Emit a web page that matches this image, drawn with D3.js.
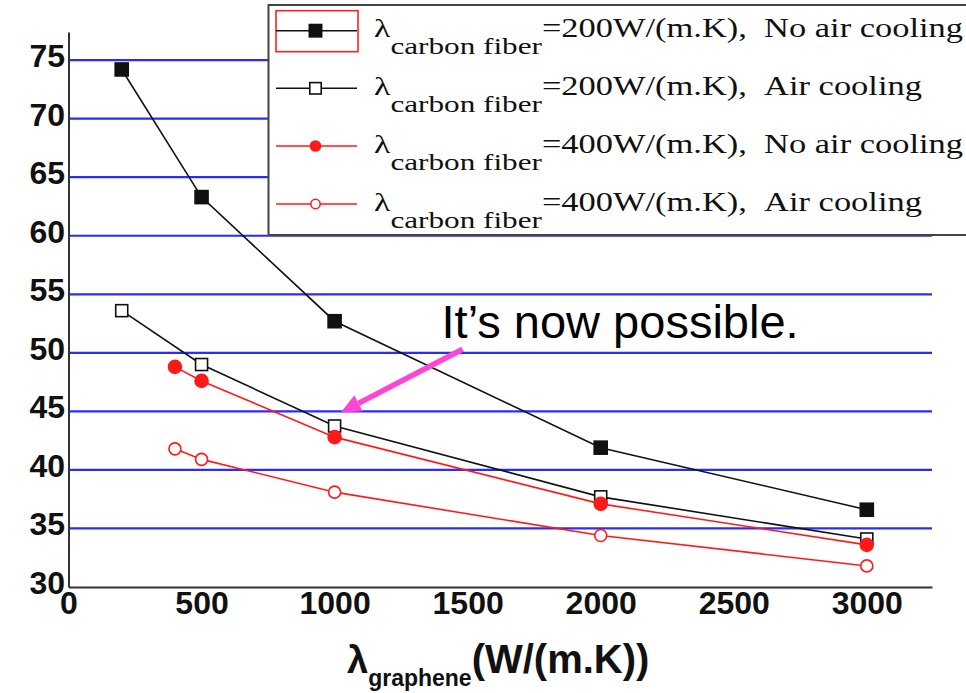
<!DOCTYPE html>
<html>
<head>
<meta charset="utf-8">
<script src="https://cdn.jsdelivr.net/npm/d3@7"></script>
<style>
  body { margin: 0; background: #fff; }
  svg { display: block; }
</style>
</head>
<body>
<svg id="chart"></svg>
<script>
// graphene conductivity on the x axis, two carbon fiber grades, with and without air cooling
const xValues200 = [200, 500, 1000, 2000, 3000];
const xValues400 = [400, 500, 1000, 2000, 3000];
const cf200NoAir = [74.2, 63.3, 52.7, 41.9, 36.6];
const cf200Air = [53.6, 49.0, 43.75, 37.7, 34.1];
const cf400NoAir = [48.8, 47.6, 42.8, 37.1, 33.6];
const cf400Air = [41.8, 40.9, 38.1, 34.4, 31.8];

const xTicks = [0, 500, 1000, 1500, 2000, 2500, 3000];
const yTicks = [30, 35, 40, 45, 50, 55, 60, 65, 70, 75];

const legendValues = ["=200W/(m.K),\u00a0\u00a0No air cooling", "=200W/(m.K),\u00a0\u00a0Air cooling",
    "=400W/(m.K),\u00a0\u00a0No air cooling", "=400W/(m.K),\u00a0\u00a0Air cooling"];

const annotationText = "It\u2019s now possible.";

const svgWidth = 966,
    svgHeight = 693;

const svg = d3.select("#chart")
    .attr("width", svgWidth)
    .attr("height", svgHeight)
    .attr("viewBox", `0 0 ${svgWidth} ${svgHeight}`);

const x = d3.scaleLinear()
    .domain([0, 3245])
    .range([68.5, 932]);

const y = d3.scaleLinear()
    .domain([30, 77.4])
    .range([587, 32]);

// series table built from the arrays above
const series = [
    { xs: xValues200, ys: cf200NoAir, color: "#111", shape: "square", filled: true, label: legendValues[0] },
    { xs: xValues200, ys: cf200Air, color: "#111", shape: "square", filled: false, label: legendValues[1] },
    { xs: xValues400, ys: cf400NoAir, color: "#ff1a1a", shape: "circle", filled: true, label: legendValues[2] },
    { xs: xValues400, ys: cf400Air, color: "#ff1a1a", shape: "circle", filled: false, label: legendValues[3] }
];

// blue horizontal grid
svg.append("g")
    .selectAll("line")
    .data(yTicks.filter(d => d > 30))
    .join("line")
    .attr("x1", x.range()[0])
    .attr("x2", x.range()[1])
    .attr("y1", d => y(d))
    .attr("y2", d => y(d))
    .attr("stroke", "#2b2bff")
    .attr("stroke-width", 2.2);

const line = d3.line()
    .x(d => x(d[0]))
    .y(d => y(d[1]));

series.forEach(s => {
    const pts = s.xs.map((v, i) => [v, s.ys[i]]);

    svg.append("path")
        .datum(pts)
        .attr("d", line)
        .attr("fill", "none")
        .attr("stroke", s.color)
        .attr("stroke-width", 1.6);

    drawMarkers(svg, pts.map(p => [x(p[0]), y(p[1])]), s, 1);
});

function drawMarkers(parent, coords, s, scale) {
    if (s.shape === "square") {
        const size = (s.filled ? 13 : 12) * scale;
        parent.append("g")
            .selectAll("rect")
            .data(coords)
            .join("rect")
            .attr("x", d => d[0] - size / 2)
            .attr("y", d => d[1] - size / 2)
            .attr("width", size)
            .attr("height", size)
            .attr("fill", s.filled ? s.color : "#fff")
            .attr("stroke", s.color)
            .attr("stroke-width", 1.6);
    } else {
        const r = (s.filled ? 6.5 : 6) * scale;
        parent.append("g")
            .selectAll("circle")
            .data(coords)
            .join("circle")
            .attr("cx", d => d[0])
            .attr("cy", d => d[1])
            .attr("r", r)
            .attr("fill", s.filled ? s.color : "#fff")
            .attr("stroke", s.color)
            .attr("stroke-width", 1.6);
    }
}

// axes, no tick marks, only bold labels
const xAxis = svg.append("g")
    .attr("transform", `translate(0,${y.range()[0]})`)
    .call(d3.axisBottom(x).tickValues(xTicks).tickFormat(d3.format("d"))
        .tickSize(0).tickSizeOuter(0).tickPadding(4));

const yAxis = svg.append("g")
    .attr("transform", `translate(${x.range()[0]},0)`)
    .call(d3.axisLeft(y).tickValues(yTicks).tickFormat(d3.format("d"))
        .tickSize(0).tickSizeOuter(0).tickPadding(3.5));

yAxis.selectAll(".tick text").attr("dy", "0.2em");

[xAxis, yAxis].forEach(a => {
    a.select(".domain").attr("stroke", "#333").attr("stroke-width", 2);
    a.selectAll(".tick text")
        .attr("fill", "#111")
        .style("font-family", "Arial, 'Liberation Sans', sans-serif")
        .style("font-weight", "bold")
        .style("font-size", "32px");
});

// x axis title with subscript
const xTitle = svg.append("text")
    .attr("x", 347)
    .attr("y", 673)
    .attr("fill", "#111")
    .style("font-family", "Arial, 'Liberation Sans', sans-serif")
    .style("font-weight", "bold")
    .style("font-size", "38px");
xTitle.append("tspan").text("\u03bb");
xTitle.append("tspan").attr("dy", 13).style("font-size", "23px").text("graphene");
xTitle.append("tspan").attr("dy", -13).style("font-size", "40px").text("(W/(m.K))");

// legend box sits on top of the grid
const legend = svg.append("g");

legend.append("rect")
    .attr("x", 268.5)
    .attr("y", 5)
    .attr("width", 720)
    .attr("height", 230)
    .attr("fill", "#fff")
    .attr("stroke", "#444")
    .attr("stroke-width", 2);

const rowY = [30.7, 88.3, 146, 204];

// red selection frame around the first sample
legend.append("rect")
    .attr("x", 276)
    .attr("y", 10.7)
    .attr("width", 82)
    .attr("height", 41)
    .attr("fill", "none")
    .attr("stroke", "#ff2020")
    .attr("stroke-width", 1.6);

series.forEach((s, i) => {
    const ry = rowY[i];
    legend.append("line")
        .attr("x1", 276)
        .attr("x2", 357)
        .attr("y1", ry)
        .attr("y2", ry)
        .attr("stroke", s.color)
        .attr("stroke-width", 1.6);

    drawMarkers(legend, [[315.5, ry]], s, s.shape === "square" ? 0.95 : 0.78);

    // the serif labels are stretched sideways in the original
    const t = legend.append("g")
        .attr("transform", `translate(374,${ry + 6.5}) scale(1.3,1)`)
        .append("text")
        .attr("fill", "#111")
        .style("font-family", "'Times New Roman', 'Liberation Serif', serif")
        .style("font-size", "26px");
    t.append("tspan").text("\u03bb");
    t.append("tspan").attr("dy", 17).style("font-size", "24px").text("carbon fiber");
    t.append("tspan").attr("dy", -17).style("font-size", "26.5px").text(s.label);
});

// annotation with magenta arrow
svg.append("text")
    .attr("x", x(1402))
    .attr("y", y(51.27))
    .attr("fill", "#000")
    .style("font-family", "Arial, 'Liberation Sans', sans-serif")
    .style("font-size", "47px")
    .text(annotationText);

const tail = [x(1481), y(50.3)],
    tip = [x(1023), y(44.9)];
const ang = Math.atan2(tip[1] - tail[1], tip[0] - tail[0]);
const headLen = 20, headHalf = 9;
const base = [tip[0] - headLen * Math.cos(ang), tip[1] - headLen * Math.sin(ang)];

svg.append("line")
    .attr("x1", tail[0])
    .attr("y1", tail[1])
    .attr("x2", base[0])
    .attr("y2", base[1])
    .attr("stroke", "#ff45d6")
    .attr("stroke-width", 5.5);

svg.append("polygon")
    .attr("points", [
        tip,
        [base[0] + headHalf * Math.sin(ang), base[1] - headHalf * Math.cos(ang)],
        [base[0] - headHalf * Math.sin(ang), base[1] + headHalf * Math.cos(ang)]
    ].map(p => p.join(",")).join(" "))
    .attr("fill", "#ff45d6");
</script>
</body>
</html>
